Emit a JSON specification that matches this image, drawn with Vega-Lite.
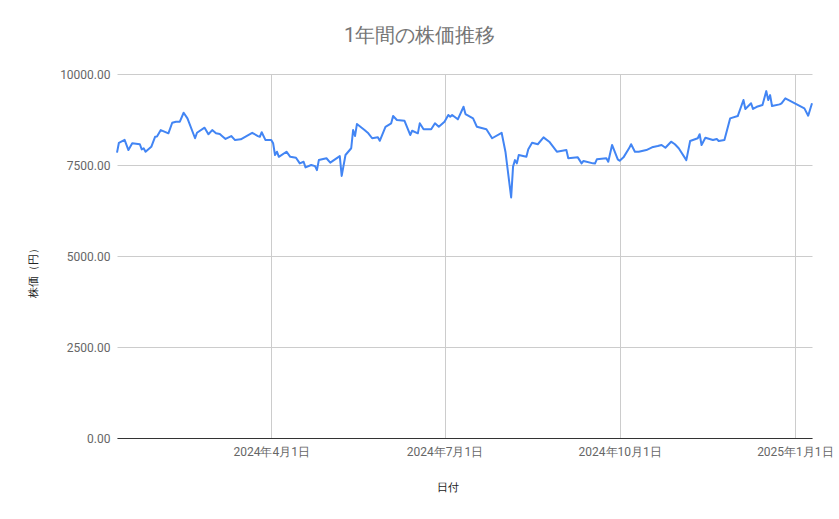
{
  "$schema": "https://vega.github.io/schema/vega-lite/v6.json",
  "width": 695,
  "height": 364,
  "autosize": "none",
  "padding": {"left": 117, "top": 74, "right": 27, "bottom": 81},
  "background": "white",
  "title": {
    "text": "1年間の株価推移",
    "font": "Roboto",
    "fontSize": 20,
    "fontWeight": "normal",
    "color": "#757575",
    "anchor": "middle",
    "dx": -45,
    "offset": 22
  },
  "config": {
    "view": {"stroke": null},
    "axis": {"labelFont": "Roboto", "titleFont": "Roboto"}
  },
  "data": {
    "values": [
      {"date": "2024-01-11", "price": 7840},
      {"date": "2024-01-12", "price": 8110},
      {"date": "2024-01-15", "price": 8190},
      {"date": "2024-01-17", "price": 7910},
      {"date": "2024-01-19", "price": 8100},
      {"date": "2024-01-23", "price": 8070},
      {"date": "2024-01-24", "price": 7930},
      {"date": "2024-01-25", "price": 7960},
      {"date": "2024-01-26", "price": 7865},
      {"date": "2024-01-29", "price": 8000},
      {"date": "2024-01-31", "price": 8275},
      {"date": "2024-02-01", "price": 8280},
      {"date": "2024-02-03", "price": 8460},
      {"date": "2024-02-07", "price": 8370},
      {"date": "2024-02-09", "price": 8660},
      {"date": "2024-02-11", "price": 8690},
      {"date": "2024-02-13", "price": 8690},
      {"date": "2024-02-15", "price": 8935},
      {"date": "2024-02-17", "price": 8780},
      {"date": "2024-02-21", "price": 8235},
      {"date": "2024-02-22", "price": 8385},
      {"date": "2024-02-26", "price": 8525},
      {"date": "2024-02-28", "price": 8345},
      {"date": "2024-03-01", "price": 8460},
      {"date": "2024-03-03", "price": 8370},
      {"date": "2024-03-05", "price": 8350},
      {"date": "2024-03-06", "price": 8305},
      {"date": "2024-03-08", "price": 8215},
      {"date": "2024-03-11", "price": 8295},
      {"date": "2024-03-13", "price": 8185},
      {"date": "2024-03-16", "price": 8205},
      {"date": "2024-03-19", "price": 8295},
      {"date": "2024-03-22", "price": 8385},
      {"date": "2024-03-25", "price": 8295},
      {"date": "2024-03-26", "price": 8275},
      {"date": "2024-03-27", "price": 8400},
      {"date": "2024-03-29", "price": 8185},
      {"date": "2024-04-01", "price": 8185},
      {"date": "2024-04-02", "price": 8095},
      {"date": "2024-04-03", "price": 7775},
      {"date": "2024-04-04", "price": 7865},
      {"date": "2024-04-05", "price": 7725},
      {"date": "2024-04-09", "price": 7865},
      {"date": "2024-04-11", "price": 7725},
      {"date": "2024-04-14", "price": 7700},
      {"date": "2024-04-16", "price": 7545},
      {"date": "2024-04-18", "price": 7590},
      {"date": "2024-04-19", "price": 7435},
      {"date": "2024-04-22", "price": 7500},
      {"date": "2024-04-24", "price": 7470},
      {"date": "2024-04-25", "price": 7360},
      {"date": "2024-04-26", "price": 7635},
      {"date": "2024-04-30", "price": 7685},
      {"date": "2024-05-02", "price": 7565},
      {"date": "2024-05-07", "price": 7745},
      {"date": "2024-05-08", "price": 7200},
      {"date": "2024-05-10", "price": 7775},
      {"date": "2024-05-13", "price": 7960},
      {"date": "2024-05-14", "price": 8460},
      {"date": "2024-05-15", "price": 8295},
      {"date": "2024-05-16", "price": 8625},
      {"date": "2024-05-20", "price": 8460},
      {"date": "2024-05-22", "price": 8370},
      {"date": "2024-05-24", "price": 8235},
      {"date": "2024-05-27", "price": 8260},
      {"date": "2024-05-28", "price": 8165},
      {"date": "2024-05-31", "price": 8550},
      {"date": "2024-06-03", "price": 8645},
      {"date": "2024-06-04", "price": 8845},
      {"date": "2024-06-06", "price": 8735},
      {"date": "2024-06-10", "price": 8715},
      {"date": "2024-06-13", "price": 8325},
      {"date": "2024-06-14", "price": 8440},
      {"date": "2024-06-17", "price": 8370},
      {"date": "2024-06-18", "price": 8645},
      {"date": "2024-06-20", "price": 8480},
      {"date": "2024-06-24", "price": 8480},
      {"date": "2024-06-26", "price": 8645},
      {"date": "2024-06-28", "price": 8550},
      {"date": "2024-07-01", "price": 8690},
      {"date": "2024-07-03", "price": 8875},
      {"date": "2024-07-04", "price": 8825},
      {"date": "2024-07-05", "price": 8875},
      {"date": "2024-07-08", "price": 8755},
      {"date": "2024-07-11", "price": 9100},
      {"date": "2024-07-12", "price": 8900},
      {"date": "2024-07-16", "price": 8780},
      {"date": "2024-07-18", "price": 8550},
      {"date": "2024-07-23", "price": 8480},
      {"date": "2024-07-26", "price": 8235},
      {"date": "2024-07-31", "price": 8385},
      {"date": "2024-08-02", "price": 7865},
      {"date": "2024-08-05", "price": 6610},
      {"date": "2024-08-06", "price": 7455},
      {"date": "2024-08-07", "price": 7635},
      {"date": "2024-08-08", "price": 7545},
      {"date": "2024-08-09", "price": 7775},
      {"date": "2024-08-13", "price": 7725},
      {"date": "2024-08-14", "price": 7930},
      {"date": "2024-08-16", "price": 8110},
      {"date": "2024-08-19", "price": 8070},
      {"date": "2024-08-22", "price": 8260},
      {"date": "2024-08-25", "price": 8140},
      {"date": "2024-08-29", "price": 7865},
      {"date": "2024-09-03", "price": 7910},
      {"date": "2024-09-04", "price": 7685},
      {"date": "2024-09-09", "price": 7710},
      {"date": "2024-09-11", "price": 7545},
      {"date": "2024-09-12", "price": 7610},
      {"date": "2024-09-17", "price": 7545},
      {"date": "2024-09-18", "price": 7540},
      {"date": "2024-09-19", "price": 7655},
      {"date": "2024-09-24", "price": 7685},
      {"date": "2024-09-25", "price": 7590},
      {"date": "2024-09-27", "price": 8050},
      {"date": "2024-09-30", "price": 7655},
      {"date": "2024-10-01", "price": 7615},
      {"date": "2024-10-03", "price": 7710},
      {"date": "2024-10-06", "price": 7965},
      {"date": "2024-10-07", "price": 8070},
      {"date": "2024-10-09", "price": 7865},
      {"date": "2024-10-11", "price": 7865},
      {"date": "2024-10-15", "price": 7910},
      {"date": "2024-10-18", "price": 7985},
      {"date": "2024-10-21", "price": 8020},
      {"date": "2024-10-23", "price": 8050},
      {"date": "2024-10-25", "price": 7975},
      {"date": "2024-10-28", "price": 8140},
      {"date": "2024-10-30", "price": 8070},
      {"date": "2024-11-01", "price": 7960},
      {"date": "2024-11-05", "price": 7635},
      {"date": "2024-11-07", "price": 8160},
      {"date": "2024-11-11", "price": 8235},
      {"date": "2024-11-12", "price": 8345},
      {"date": "2024-11-13", "price": 8050},
      {"date": "2024-11-15", "price": 8250},
      {"date": "2024-11-19", "price": 8185},
      {"date": "2024-11-21", "price": 8215},
      {"date": "2024-11-22", "price": 8160},
      {"date": "2024-11-25", "price": 8185},
      {"date": "2024-11-28", "price": 8780},
      {"date": "2024-12-02", "price": 8845},
      {"date": "2024-12-05", "price": 9285},
      {"date": "2024-12-06", "price": 9040},
      {"date": "2024-12-09", "price": 9195},
      {"date": "2024-12-10", "price": 9040},
      {"date": "2024-12-12", "price": 9100},
      {"date": "2024-12-15", "price": 9150},
      {"date": "2024-12-17", "price": 9530},
      {"date": "2024-12-18", "price": 9285},
      {"date": "2024-12-19", "price": 9420},
      {"date": "2024-12-20", "price": 9120},
      {"date": "2024-12-24", "price": 9165},
      {"date": "2024-12-25", "price": 9195},
      {"date": "2024-12-27", "price": 9330},
      {"date": "2025-01-06", "price": 9055},
      {"date": "2025-01-08", "price": 8855},
      {"date": "2025-01-10", "price": 9195}
    ]
  },
  "mark": {"type": "line", "color": "#4285F4", "strokeWidth": 2, "strokeJoin": "round"},
  "encoding": {
    "x": {
      "field": "date",
      "type": "temporal",
      "title": "日付",
      "scale": {"type": "utc", "nice": false},
      "axis": {
        "values": [
          {"year": 2024, "month": 4, "date": 1, "utc": true},
          {"year": 2024, "month": 7, "date": 1, "utc": true},
          {"year": 2024, "month": 10, "date": 1, "utc": true},
          {"year": 2025, "month": 1, "date": 1, "utc": true}
        ],
        "labelExpr": "utcFormat(datum.value, '%Y年%-m月%-d日')",
        "labelFontSize": 12,
        "labelColor": "#666666",
        "labelPadding": 8,
        "labelFlush": false,
        "labelOverlap": false,
        "ticks": false,
        "domainColor": "#333333",
        "domainWidth": 1,
        "grid": true,
        "gridColor": "#cccccc",
        "titleFontSize": 11,
        "titleFontWeight": "normal",
        "titleColor": "#222222",
        "titleX": 330,
        "titleY": 49,
        "titleBaseline": "middle",
        "titleAlign": "center"
      }
    },
    "y": {
      "field": "price",
      "type": "quantitative",
      "title": "株価（円）",
      "scale": {"domain": [0, 10000], "nice": false},
      "axis": {
        "values": [0, 2500, 5000, 7500, 10000],
        "format": ".2f",
        "labelFontSize": 12,
        "labelColor": "#666666",
        "labelPadding": 7,
        "ticks": false,
        "domain": false,
        "grid": true,
        "gridColor": "#cccccc",
        "titleFontSize": 11,
        "titleFontWeight": "normal",
        "titleColor": "#222222",
        "titleAngle": -90,
        "titleX": -84,
        "titleY": 196,
        "titleBaseline": "middle",
        "titleAlign": "center"
      }
    }
  }
}
